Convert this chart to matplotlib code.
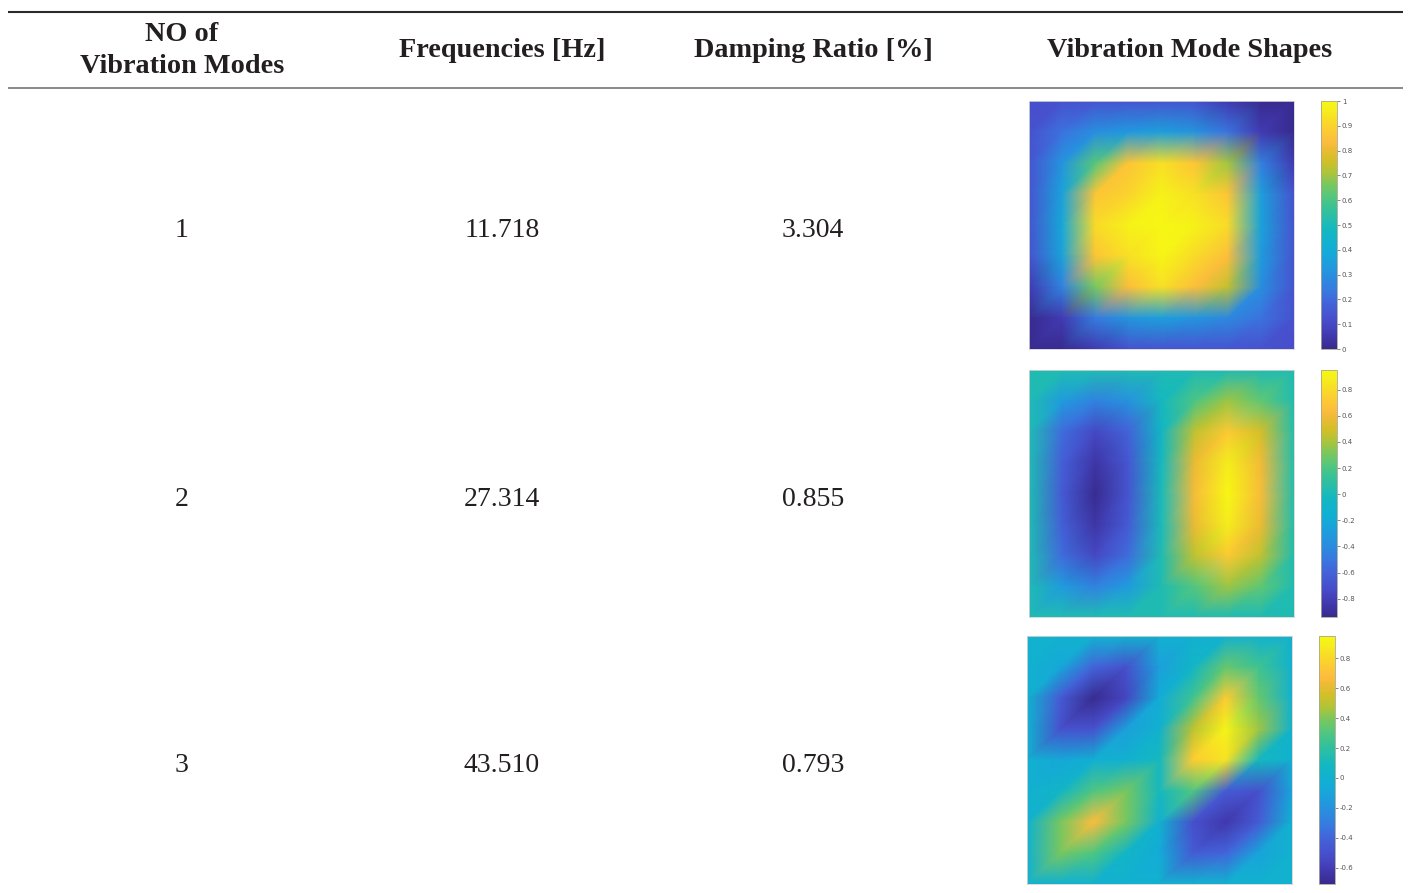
import numpy as np
import matplotlib
matplotlib.use("Agg")
import matplotlib.pyplot as plt
import matplotlib.tri as mtri
from matplotlib.colors import LinearSegmentedColormap

# ------------------ TABLE DATA ------------------
headers = ["NO of\nVibration Modes", "Frequencies [Hz]", "Damping Ratio [%]", "Vibration Mode Shapes"]
mode_no = [1, 2, 3]
frequencies = [11.718, 27.314, 43.510]   # Hz
damping = [3.304, 0.855, 0.793]          # %

# ------------------ MODE SHAPE NODAL VALUES (9 x 9, top row first) ------------------
mode1 = [
    [0.12, 0.13, 0.14, 0.14, 0.14, 0.13, 0.06, 0.00, 0.00],
    [0.13, 0.22, 0.30, 0.33, 0.35, 0.31, 0.22, 0.06, 0.00],
    [0.14, 0.32, 0.62, 0.86, 0.93, 0.86, 0.70, 0.25, 0.06],
    [0.14, 0.36, 0.86, 0.90, 0.98, 0.93, 0.86, 0.35, 0.13],
    [0.14, 0.38, 0.92, 0.98, 1.00, 0.98, 0.92, 0.36, 0.14],
    [0.13, 0.36, 0.86, 0.93, 0.99, 0.92, 0.84, 0.34, 0.14],
    [0.06, 0.26, 0.66, 0.84, 0.93, 0.84, 0.74, 0.30, 0.14],
    [0.00, 0.06, 0.24, 0.32, 0.35, 0.32, 0.28, 0.22, 0.13],
    [0.00, 0.00, 0.06, 0.13, 0.14, 0.14, 0.14, 0.13, 0.12],
]
mode2 = [
    [0.02, 0.02, 0.02, 0.02, 0.02, 0.02, 0.02, 0.02, 0.02],
    [0.02, -0.30, -0.45, -0.35, -0.02, 0.20, 0.38, 0.25, 0.03],
    [0.02, -0.55, -0.75, -0.60, -0.05, 0.45, 0.72, 0.50, 0.05],
    [0.02, -0.62, -0.86, -0.66, -0.02, 0.58, 0.88, 0.60, 0.05],
    [0.02, -0.65, -0.93, -0.68, 0.00, 0.62, 0.95, 0.62, 0.05],
    [0.02, -0.62, -0.86, -0.64, 0.00, 0.58, 0.88, 0.58, 0.05],
    [0.02, -0.55, -0.75, -0.55, 0.02, 0.45, 0.72, 0.45, 0.04],
    [0.02, -0.30, -0.45, -0.30, 0.02, 0.22, 0.38, 0.25, 0.03],
    [0.02, 0.02, 0.02, 0.02, 0.02, 0.02, 0.02, 0.02, 0.02],
]
mode3 = [
    [0.00, 0.00, 0.00, 0.00, 0.00, 0.00, 0.00, 0.00, 0.00],
    [0.00, -0.08, -0.40, -0.50, -0.12, 0.05, 0.35, 0.25, 0.00],
    [0.00, -0.45, -0.70, -0.55, -0.05, 0.25, 0.75, 0.35, 0.00],
    [0.00, -0.50, -0.50, -0.12, 0.00, 0.50, 0.92, 0.45, 0.02],
    [0.00, -0.08, -0.02, 0.00, 0.10, 0.75, 0.85, 0.10, 0.00],
    [0.00, 0.05, 0.30, 0.38, 0.10, 0.30, -0.45, -0.50, -0.10],
    [0.00, 0.38, 0.68, 0.38, 0.00, -0.50, -0.62, -0.45, 0.00],
    [0.00, 0.38, 0.30, 0.05, -0.05, -0.45, -0.40, -0.10, 0.00],
    [0.00, 0.00, 0.00, 0.00, 0.00, 0.00, 0.00, 0.00, 0.00],
]
modes = [mode1, mode2, mode3]
clims = [(0.0, 1.0), (-0.94, 0.95), (-0.71, 0.95)]
cbar_ticks = [
    [0, 0.1, 0.2, 0.3, 0.4, 0.5, 0.6, 0.7, 0.8, 0.9, 1],
    [-0.8, -0.6, -0.4, -0.2, 0, 0.2, 0.4, 0.6, 0.8],
    [-0.6, -0.4, -0.2, 0, 0.2, 0.4, 0.6, 0.8],
]

# parula-style colormap, blues slightly toned down as in print
parula = LinearSegmentedColormap.from_list("parula", [
    (0.00, (0.22, 0.17, 0.56)),
    (0.06, (0.26, 0.23, 0.70)),
    (0.12, (0.28, 0.31, 0.80)),
    (0.19, (0.26, 0.40, 0.86)),
    (0.25, (0.20, 0.50, 0.88)),
    (0.33, (0.13, 0.60, 0.87)),
    (0.40, (0.07, 0.68, 0.84)),
    (0.48, (0.07, 0.72, 0.76)),
    (0.52, (0.14, 0.74, 0.68)),
    (0.57, (0.22, 0.76, 0.59)),
    (0.62, (0.34, 0.78, 0.48)),
    (0.67, (0.50, 0.78, 0.35)),
    (0.71, (0.67, 0.77, 0.23)),
    (0.76, (0.82, 0.75, 0.16)),
    (0.81, (0.94, 0.73, 0.21)),
    (0.84, (0.99, 0.74, 0.24)),
    (0.89, (0.99, 0.81, 0.19)),
    (0.94, (0.97, 0.89, 0.14)),
    (0.97, (0.96, 0.94, 0.11)),
    (1.00, (0.97, 0.97, 0.08)),
])

# ------------------ FIGURE / TABLE LAYOUT (pixels) ------------------
W, H = 1408, 893
fig = plt.figure(figsize=(W / 100, H / 100), dpi=100)
bg = fig.add_axes([0, 0, 1, 1])
bg.set_xlim(0, W)
bg.set_ylim(H, 0)
bg.axis("off")

TXT = "#231f20"
FONT = "Liberation Serif"
col_x = [182, 502, 813, 1190]
row_base = [237, 506, 772]

bg.plot([8, 1403], [11.5, 11.5], color="#2a2a2a", lw=1.5, solid_capstyle="butt")
bg.plot([8, 1403], [88, 88], color="#6a6a6a", lw=1.1, solid_capstyle="butt")

for x, h in zip(col_x, headers):
    lines = h.split("\n")
    first = 57 - 16 * (len(lines) - 1)
    for k, line in enumerate(lines):
        bg.text(x, first + 32 * k, line, ha="center", va="baseline", family=FONT,
                fontsize=20.3, fontweight="bold", color=TXT)

for y, n, f, d in zip(row_base, mode_no, frequencies, damping):
    for x, s in zip(col_x[:3], [str(n), f"{f:.3f}", f"{d:.3f}"]):
        bg.text(x, y, s, ha="center", va="baseline", family=FONT, fontsize=20, color=TXT)


def px_axes(x0, y0, x1, y1):
    return fig.add_axes([x0 / W, 1 - y1 / H, (x1 - x0) / W, (y1 - y0) / H])


img_boxes = [(1029, 101, 1294, 349), (1029, 370, 1294, 617), (1027, 636, 1292, 884)]
bar_boxes = [(1321, 101, 1337, 349), (1321, 370, 1337, 617), (1319, 636, 1335, 884)]

# triangulated plate mesh, 9 x 9 nodes
n = 9
gx, gy = np.meshgrid(np.linspace(0, 1, n), np.linspace(0, 1, n))
tris = []
for r in range(n - 1):
    for c in range(n - 1):
        a, b = r * n + c, r * n + c + 1
        d, e = (r + 1) * n + c, (r + 1) * n + c + 1
        tris.append([a, b, d])
        tris.append([b, e, d])
mesh = mtri.Triangulation(gx.ravel(), gy.ravel(), tris)

for z, (lo, hi), ticks, ib, cb in zip(modes, clims, cbar_ticks, img_boxes, bar_boxes):
    ax = px_axes(*ib)
    m = ax.tripcolor(mesh, np.array(z).ravel(), shading="gouraud", cmap=parula, vmin=lo, vmax=hi)
    ax.set_xlim(0, 1)
    ax.set_ylim(1, 0)
    ax.set_xticks([])
    ax.set_yticks([])
    for s in ax.spines.values():
        s.set_color("#d4d4d4")
        s.set_linewidth(0.6)

    cax = px_axes(*cb)
    bar = fig.colorbar(m, cax=cax)
    bar.set_ticks(ticks)
    bar.set_ticklabels([f"{t:g}" for t in ticks])
    bar.outline.set_edgecolor("#a8a890")
    bar.outline.set_linewidth(0.6)
    cax.tick_params(axis="y", labelsize=5, colors="#555555", length=2, width=0.5, pad=1.5)

fig.savefig("out.png", dpi=100)
